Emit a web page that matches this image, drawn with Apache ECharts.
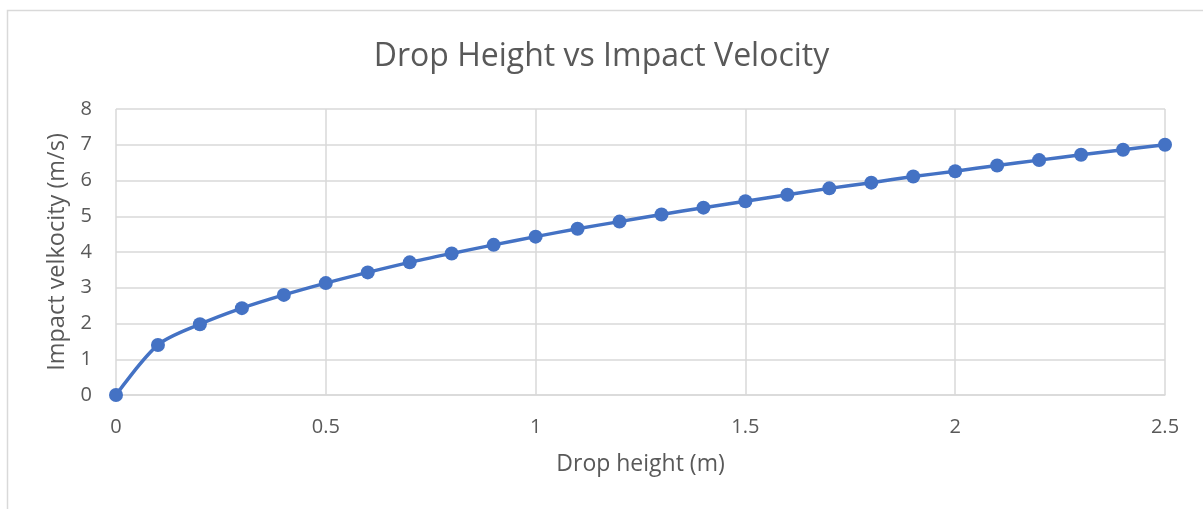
<!DOCTYPE html>
<html><head><meta charset="utf-8">
<script src="https://cdn.jsdelivr.net/npm/echarts@6/dist/echarts.min.js"></script>
<style>html,body{margin:0;padding:0;background:#fff}#c{width:1203px;height:509px}</style>
</head><body><div id="c"></div>
<script>
const dropHeight = [0,0.1,0.2,0.3,0.4,0.5,0.6,0.7,0.8,0.9,1.0,1.1,1.2,1.3,1.4,1.5,1.6,1.7,1.8,1.9,2.0,2.1,2.2,2.3,2.4,2.5];
const impactVelocity = [0,1.40,1.98,2.43,2.80,3.13,3.43,3.71,3.96,4.20,4.43,4.65,4.85,5.05,5.24,5.42,5.60,5.78,5.94,6.11,6.26,6.42,6.57,6.72,6.86,7.00];
const titleText = 'Drop Height vs Impact Velocity';
const xName = 'Drop height (m)';
const yName = 'Impact velkocity (m/s)';

const chart = echarts.init(document.getElementById('c'), null, {renderer:'canvas'});
const font = '"Open Sans", "Noto Sans", sans-serif';
chart.setOption({
  animation:false,
  graphic:[{type:'rect',shape:{x:7.5,y:10.5,width:1300,height:600},style:{fill:'none',stroke:'#d9d9d9',lineWidth:1.5},silent:true,z:-1}],
  title:{text:titleText,left:'center',top:36,textStyle:{fontFamily:font,fontSize:32,fontWeight:'normal',color:'#595959'}},
  grid:{left:116,right:38,top:109,bottom:114},
  xAxis:{type:'value',min:0,max:2.5,interval:0.5,
    name:xName,nameLocation:'middle',nameGap:58,
    nameTextStyle:{fontFamily:font,fontSize:23,color:'#595959'},
    axisLine:{show:true,lineStyle:{color:'#d9d9d9',width:1.5}},axisTick:{show:false},
    axisLabel:{fontFamily:font,fontSize:20,color:'#595959',margin:22,formatter:v=>String(v)},
    splitLine:{show:true,lineStyle:{color:'#d9d9d9',width:1.5}}},
  yAxis:{type:'value',min:0,max:8,interval:1,
    name:yName,nameLocation:'middle',nameGap:42,
    nameTextStyle:{fontFamily:font,fontSize:23.5,color:'#595959'},
    axisLine:{show:false},axisTick:{show:false},
    axisLabel:{fontFamily:font,fontSize:20,color:'#595959',margin:24},
    splitLine:{show:true,lineStyle:{color:'#d9d9d9',width:1.5}}},
  series:[{type:'line',data:dropHeight.map((x,i)=>[x,impactVelocity[i]]),smooth:0.3,
    symbol:'circle',symbolSize:14,lineStyle:{color:'#4472C4',width:3.5},itemStyle:{color:'#4472C4'}}]
});
</script></body></html>
